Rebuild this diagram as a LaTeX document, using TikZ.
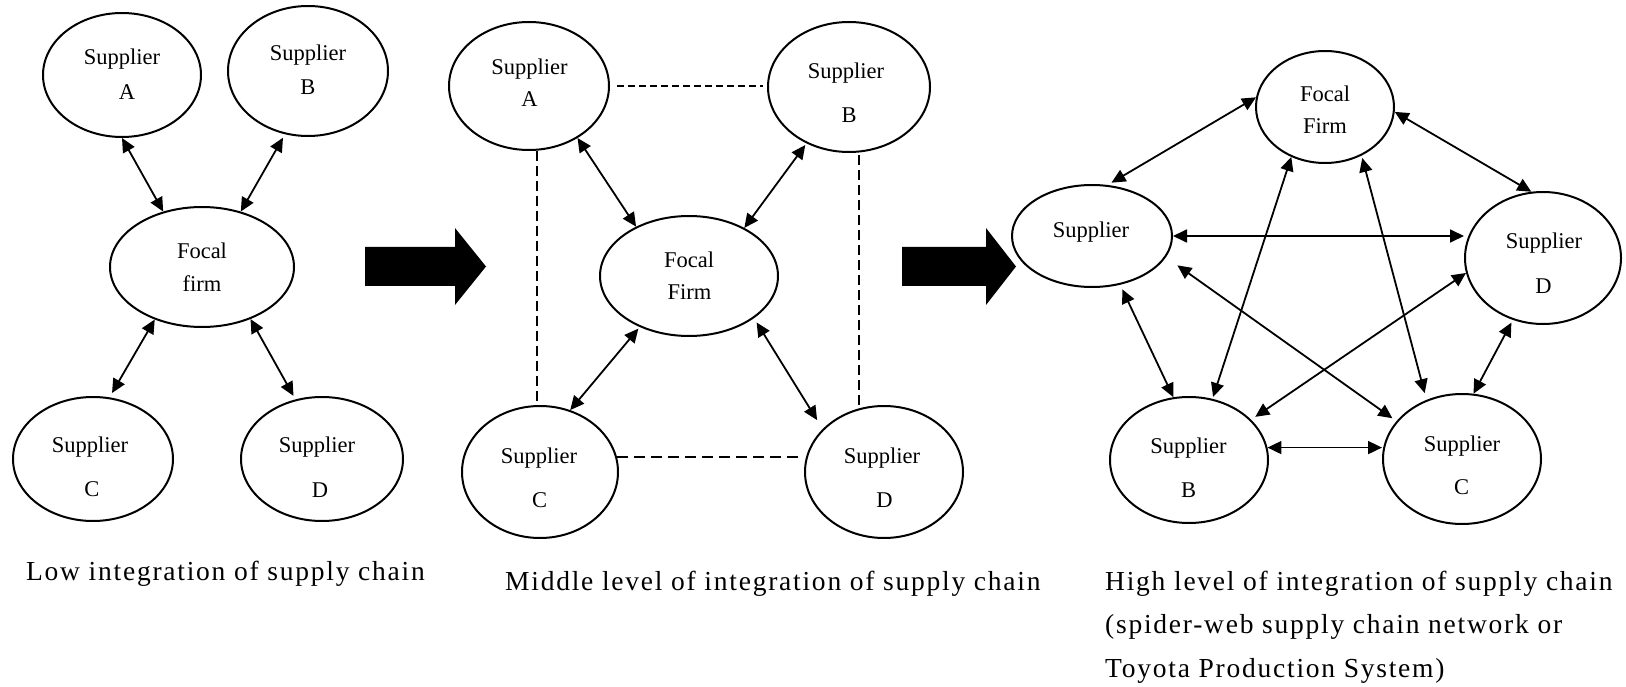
\documentclass[tikz,border=0pt]{standalone}
\usepackage{fontspec}
\setmainfont{Liberation Serif}
\newfontfamily\capfont[LetterSpace=6.4]{Liberation Serif}
\usetikzlibrary{shapes.geometric,arrows.meta,calc}
\newcommand{\txtline}[4]{\node[lbl] (#1) at (#2,#3) {#4};}
\begin{document}
\begin{tikzpicture}[x=1pt,y=-1pt,
  ell/.style={ellipse, draw, line width=2pt, inner sep=0pt},
  lbl/.style={font=\fontsize{22.5}{27}\selectfont, inner sep=0pt, anchor=base},
  captext/.style={font=\capfont\fontsize{27.5}{33}\selectfont, inner sep=0pt, anchor=base west},
  biarr/.style={line width=1.8pt, {Triangle[length=14pt,width=13pt]}-{Triangle[length=14pt,width=13pt]}},
  dashA/.style={line width=1.8pt, dash pattern=on 7pt off 4pt},
  dashB/.style={line width=1.8pt, dash pattern=on 10pt off 5pt},
  dashC/.style={line width=1.8pt, dash pattern=on 11pt off 6pt},
  bigarrow/.style={fill=black}]
\useasboundingbox (0,0) rectangle (1626,687);

% ---------- Panel 1 ----------
\node[ell, minimum width=158pt, minimum height=124pt] (p1A) at (122,75) {};
\node[ell, minimum width=160pt, minimum height=130pt] (p1B) at (308,71) {};
\node[ell, minimum width=184pt, minimum height=120pt] (p1F) at (202,267) {};
\node[ell, minimum width=160pt, minimum height=124pt] (p1C) at (93,459) {};
\node[ell, minimum width=162pt, minimum height=124pt] (p1D) at (322,459) {};
\txtline{p1At1}{122}{65}{Supplier}
\txtline{p1At2}{127}{100}{A}
\txtline{p1Bt1}{308}{60.5}{Supplier}
\txtline{p1Bt2}{308}{95}{B}
\txtline{p1Ft1}{202}{259}{Focal}
\txtline{p1Ft2}{202}{291.5}{firm}
\txtline{p1Ct1}{90}{452.5}{Supplier}
\txtline{p1Ct2}{92}{496.5}{C}
\txtline{p1Dt1}{317}{452.5}{Supplier}
\txtline{p1Dt2}{320}{497}{D}
\draw[biarr] (p1A.-90) -- (p1F.125);
\draw[biarr, shorten <=4pt] (p1B.-110) -- (p1F.55);
\draw[biarr, shorten >=5pt] (p1F.-132) -- (p1C.75);
\draw[biarr, shorten >=4pt] (p1F.-47) -- (p1D.114);

% big arrow 1
\fill[bigarrow] (365,247) -- (455,247) -- (455,228) -- (486,266.5) -- (455,305) -- (455,286) -- (365,286) -- cycle;

% ---------- Panel 2 ----------
\node[ell, minimum width=160pt, minimum height=128pt] (p2A) at (529,86) {};
\node[ell, minimum width=162pt, minimum height=130pt] (p2B) at (849,87) {};
\node[ell, minimum width=178pt, minimum height=120pt] (p2F) at (689,276) {};
\node[ell, minimum width=156pt, minimum height=132pt] (p2C) at (540,472) {};
\node[ell, minimum width=158pt, minimum height=132pt] (p2D) at (884,472) {};
\txtline{p2At1}{529.5}{75}{Supplier}
\txtline{p2At2}{529.5}{106.7}{A}
\txtline{p2Bt1}{846}{78.3}{Supplier}
\txtline{p2Bt2}{849}{122.3}{B}
\txtline{p2Ft1}{689}{268}{Focal}
\txtline{p2Ft2}{689.5}{299.3}{Firm}
\txtline{p2Ct1}{539}{463}{Supplier}
\txtline{p2Ct2}{539.5}{507}{C}
\txtline{p2Dt1}{882}{463}{Supplier}
\txtline{p2Dt2}{884.5}{507}{D}
\draw[biarr] (p2A.-47) -- (p2F.137);
\draw[biarr, shorten <=2pt] (p2B.-127) -- (p2F.41);
\draw[biarr, shorten <=2pt] (p2F.-134) -- (p2C.64);
\draw[biarr, shorten <=5pt, shorten >=10.5pt] (p2F.-33) -- (p2D.145);
\draw[dashA, shorten <=7pt, shorten >=4pt] (p2A.east) -- (p2A.east -| p2B.west);
\draw[dashB] (p2A.-83) -- (p2A.-83 |- p2C.north);
\draw[dashB, shorten <=3pt] (p2B.-81) -- (p2B.-81 |- p2D.north);
\draw[dashC] (p2C.11) -- (p2C.11 -| p2D.west);

% big arrow 2
\fill[bigarrow] (902,247) -- (986,247) -- (986,228) -- (1016,266.5) -- (986,305) -- (986,286) -- (902,286) -- cycle;

% ---------- Panel 3 ----------
\node[ell, minimum width=138pt, minimum height=112pt] (p3F) at (1325,107) {};
\node[ell, minimum width=160pt, minimum height=102pt] (p3S) at (1092,236) {};
\node[ell, minimum width=156pt, minimum height=132pt] (p3D) at (1543,258) {};
\node[ell, minimum width=158pt, minimum height=126pt] (p3B) at (1189,460) {};
\node[ell, minimum width=158pt, minimum height=130pt] (p3C) at (1462,459) {};
\txtline{p3Ft1}{1325}{101.7}{Focal}
\txtline{p3Ft2}{1325}{133.3}{Firm}
\txtline{p3St1}{1091}{238}{Supplier}
\txtline{p3Dt1}{1544}{248.3}{Supplier}
\txtline{p3Dt2}{1543.5}{293.3}{D}
\txtline{p3Bt1}{1188.5}{453}{Supplier}
\txtline{p3Bt2}{1188.5}{497}{B}
\txtline{p3Ct1}{1462}{451.7}{Supplier}
\txtline{p3Ct2}{1461.5}{494}{C}
\draw[biarr, shorten <=4.5pt] (p3S.73) -- (p3F.172);
\draw[biarr] (p3F.-4) -- (p3D.100);
\draw[biarr] (p3S.0) -- (p3S.0 -| p3D.west);
\draw[biarr, shorten <=5pt] (p3S.-60) -- (p3B.104);
\draw[biarr, shorten >=2pt] (p3F.-124) -- (p3B.69);
\draw[biarr, shorten <=2.5pt, shorten >=7pt] (p3F.-53) -- (p3C.121);
\draw[biarr, shorten <=14pt, shorten >=5pt] (p3S.-16) -- (p3C.150);
\draw[biarr, shorten >=5pt] (p3D.-169) -- (p3B.33);
\draw[biarr] (p3B.9) -- (p3B.9 -| p3C.west);
\draw[biarr, shorten <=3pt] (p3D.-116) -- (p3C.80);

% ---------- Captions ----------
\node[captext] (cap1) at (26,580) {Low integration of supply chain};
\node[captext] (cap2) at (505,590) {Middle level of integration of supply chain};
\node[captext] (cap3a) at (1105,590) {High level of integration of supply chain};
\node[captext] (cap3b) at (1105,633) {(spider-web supply chain network or};
\node[captext] (cap3c) at (1105,677) {Toyota Production System)};
\end{tikzpicture}
\end{document}
